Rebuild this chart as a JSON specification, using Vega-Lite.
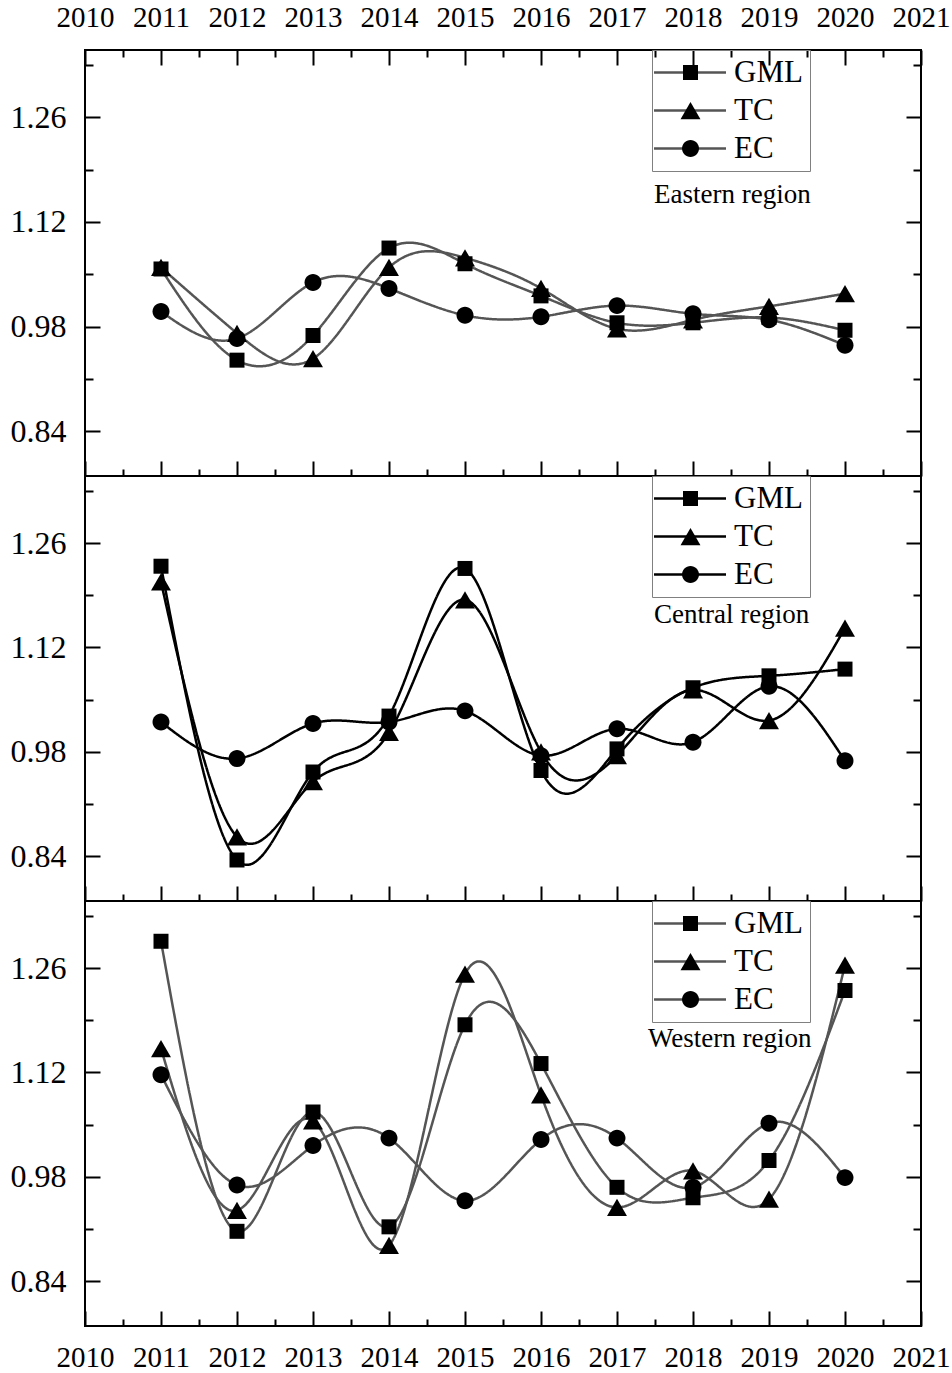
{
  "$schema": "https://vega.github.io/schema/vega-lite/v6.json",
  "background": "white",
  "padding": {"left": 9, "top": 2, "right": 2, "bottom": 0},
  "spacing": 0,
  "bounds": "flush",
  "datasets": {
    "eastern": [
      {"series": "GML", "year": 2011, "value": 1.057}, {"series": "GML", "year": 2012, "value": 0.935},
      {"series": "GML", "year": 2013, "value": 0.968}, {"series": "GML", "year": 2014, "value": 1.085},
      {"series": "GML", "year": 2015, "value": 1.064}, {"series": "GML", "year": 2016, "value": 1.021},
      {"series": "GML", "year": 2017, "value": 0.985}, {"series": "GML", "year": 2018, "value": 0.985},
      {"series": "GML", "year": 2019, "value": 0.992}, {"series": "GML", "year": 2020, "value": 0.975},
      {"series": "TC", "year": 2011, "value": 1.059}, {"series": "TC", "year": 2012, "value": 0.971},
      {"series": "TC", "year": 2013, "value": 0.937}, {"series": "TC", "year": 2014, "value": 1.059},
      {"series": "TC", "year": 2015, "value": 1.072}, {"series": "TC", "year": 2016, "value": 1.031},
      {"series": "TC", "year": 2017, "value": 0.977}, {"series": "TC", "year": 2018, "value": 0.989},
      {"series": "TC", "year": 2019, "value": 1.007}, {"series": "TC", "year": 2020, "value": 1.024},
      {"series": "EC", "year": 2011, "value": 1.000}, {"series": "EC", "year": 2012, "value": 0.964},
      {"series": "EC", "year": 2013, "value": 1.039}, {"series": "EC", "year": 2014, "value": 1.031},
      {"series": "EC", "year": 2015, "value": 0.995}, {"series": "EC", "year": 2016, "value": 0.993},
      {"series": "EC", "year": 2017, "value": 1.008}, {"series": "EC", "year": 2018, "value": 0.997},
      {"series": "EC", "year": 2019, "value": 0.989}, {"series": "EC", "year": 2020, "value": 0.955}
    ],
    "central": [
      {"series": "GML", "year": 2011, "value": 1.229}, {"series": "GML", "year": 2012, "value": 0.835},
      {"series": "GML", "year": 2013, "value": 0.953}, {"series": "GML", "year": 2014, "value": 1.028},
      {"series": "GML", "year": 2015, "value": 1.226}, {"series": "GML", "year": 2016, "value": 0.955},
      {"series": "GML", "year": 2017, "value": 0.984}, {"series": "GML", "year": 2018, "value": 1.066},
      {"series": "GML", "year": 2019, "value": 1.082}, {"series": "GML", "year": 2020, "value": 1.091},
      {"series": "TC", "year": 2011, "value": 1.208}, {"series": "TC", "year": 2012, "value": 0.866},
      {"series": "TC", "year": 2013, "value": 0.940}, {"series": "TC", "year": 2014, "value": 1.006},
      {"series": "TC", "year": 2015, "value": 1.184}, {"series": "TC", "year": 2016, "value": 0.980},
      {"series": "TC", "year": 2017, "value": 0.975}, {"series": "TC", "year": 2018, "value": 1.063},
      {"series": "TC", "year": 2019, "value": 1.022}, {"series": "TC", "year": 2020, "value": 1.146},
      {"series": "EC", "year": 2011, "value": 1.020}, {"series": "EC", "year": 2012, "value": 0.971},
      {"series": "EC", "year": 2013, "value": 1.018}, {"series": "EC", "year": 2014, "value": 1.020},
      {"series": "EC", "year": 2015, "value": 1.035}, {"series": "EC", "year": 2016, "value": 0.975},
      {"series": "EC", "year": 2017, "value": 1.011}, {"series": "EC", "year": 2018, "value": 0.993},
      {"series": "EC", "year": 2019, "value": 1.068}, {"series": "EC", "year": 2020, "value": 0.968}
    ],
    "western": [
      {"series": "GML", "year": 2011, "value": 1.296}, {"series": "GML", "year": 2012, "value": 0.907},
      {"series": "GML", "year": 2013, "value": 1.067}, {"series": "GML", "year": 2014, "value": 0.913},
      {"series": "GML", "year": 2015, "value": 1.184}, {"series": "GML", "year": 2016, "value": 1.132},
      {"series": "GML", "year": 2017, "value": 0.966}, {"series": "GML", "year": 2018, "value": 0.952},
      {"series": "GML", "year": 2019, "value": 1.002}, {"series": "GML", "year": 2020, "value": 1.230},
      {"series": "TC", "year": 2011, "value": 1.152}, {"series": "TC", "year": 2012, "value": 0.935},
      {"series": "TC", "year": 2013, "value": 1.055}, {"series": "TC", "year": 2014, "value": 0.888},
      {"series": "TC", "year": 2015, "value": 1.252}, {"series": "TC", "year": 2016, "value": 1.090},
      {"series": "TC", "year": 2017, "value": 0.939}, {"series": "TC", "year": 2018, "value": 0.988},
      {"series": "TC", "year": 2019, "value": 0.950}, {"series": "TC", "year": 2020, "value": 1.264},
      {"series": "EC", "year": 2011, "value": 1.117}, {"series": "EC", "year": 2012, "value": 0.969},
      {"series": "EC", "year": 2013, "value": 1.022}, {"series": "EC", "year": 2014, "value": 1.032},
      {"series": "EC", "year": 2015, "value": 0.948}, {"series": "EC", "year": 2016, "value": 1.030},
      {"series": "EC", "year": 2017, "value": 1.032}, {"series": "EC", "year": 2018, "value": 0.966},
      {"series": "EC", "year": 2019, "value": 1.052}, {"series": "EC", "year": 2020, "value": 0.979}
    ]
  },
  "vconcat": [
    {
      "width": 836,
      "height": 426,
      "data": {"name": "eastern"},
      "title": {"text": "Eastern region", "orient": "top", "anchor": "start", "frame": "group", "dx": 569, "dy": 227, "offset": 0, "font": "Liberation Serif", "fontSize": 27, "fontWeight": "normal", "color": "black", "baseline": "alphabetic"},
      "layer": [
        {
          "mark": {"type": "line", "interpolate": "natural", "strokeWidth": 2.5, "color": "#555555"},
          "encoding": {
            "x": {"field": "year", "type": "quantitative", "scale": {"domain": [2010, 2021], "nice": false, "zero": false},
              "axis": {"orient": "bottom", "values": [2010, 2011, 2012, 2013, 2014, 2015, 2016, 2017, 2018, 2019, 2020, 2021], "tickSize": -15, "labels": false, "title": null}},
            "y": {"field": "value", "type": "quantitative", "scale": {"domain": [0.78, 1.35], "nice": false, "zero": false},
              "axis": {"orient": "left", "values": [0.84, 0.98, 1.12, 1.26], "format": ".2f", "tickSize": -15, "labelFontSize": 32, "labelPadding": 34, "title": null}},
            "strokeDash": {"field": "series", "type": "nominal", "sort": ["GML", "TC", "EC"], "scale": {"range": [[1, 0], [1, 0], [1, 0]]},
              "legend": {"title": null, "orient": "none", "legendX": 567, "legendY": 0, "strokeColor": "#808080", "padding": 7, "rowPadding": 6, "labelFont": "Liberation Serif", "labelFontSize": 31, "labelColor": "black", "labelOffset": 44, "symbolType": "M-2.73,0H6.87", "symbolSize": 225, "symbolStrokeWidth": 2.5, "symbolStrokeColor": "#555555", "symbolDash": [1, 0]}}
          }
        },
        {
          "mark": {"type": "point", "filled": true, "opacity": 1, "color": "black", "size": 225},
          "encoding": {
            "x": {"field": "year", "type": "quantitative", "axis": {"orient": "bottom", "values": [2010.5, 2011.5, 2012.5, 2013.5, 2014.5, 2015.5, 2016.5, 2017.5, 2018.5, 2019.5, 2020.5], "tickSize": -7, "labels": false, "title": null}},
            "y": {"field": "value", "type": "quantitative", "axis": {"orient": "left", "values": [0.91, 1.05, 1.19, 1.33], "tickSize": -8, "labels": false, "title": null}},
            "shape": {"field": "series", "type": "nominal", "scale": {"domain": ["GML", "TC", "EC"], "range": ["M-1,-1H1V1H-1Z", "M0,-1.15L1.33,1.15L-1.33,1.15Z", "M-1.13,0A1.13,1.13,0,1,0,1.13,0A1.13,1.13,0,1,0,-1.13,0Z"]},
              "legend": {"title": null, "orient": "none", "legendX": 590, "legendY": 7, "padding": 0, "rowPadding": 6, "labelFont": "Liberation Serif", "labelFontSize": 31, "labelExpr": "''", "labelOffset": 44, "symbolSize": 225, "symbolOpacity": 1, "symbolFillColor": "black"}}
          }
        },
        {
          "mark": {"type": "point", "opacity": 0},
          "encoding": {
            "x": {"field": "year", "type": "quantitative", "axis": {"orient": "top", "values": [2010, 2011, 2012, 2013, 2014, 2015, 2016, 2017, 2018, 2019, 2020, 2021], "format": "d", "tickSize": -15, "labelFontSize": 29, "labelPadding": 33, "title": null}},
            "y": {"field": "value", "type": "quantitative", "axis": {"orient": "right", "values": [0.84, 0.98, 1.12, 1.26], "tickSize": -15, "labels": false, "title": null}}
          }
        },
        {
          "mark": {"type": "point", "opacity": 0},
          "encoding": {
            "x": {"field": "year", "type": "quantitative", "axis": {"orient": "top", "values": [2010.5, 2011.5, 2012.5, 2013.5, 2014.5, 2015.5, 2016.5, 2017.5, 2018.5, 2019.5, 2020.5], "tickSize": -7, "labels": false, "title": null}},
            "y": {"field": "value", "type": "quantitative", "axis": {"orient": "right", "values": [0.91, 1.05, 1.19, 1.33], "tickSize": -8, "labels": false, "title": null}}
          }
        }
      ],
      "resolve": {"axis": {"x": "independent", "y": "independent"}}
    },
    {
      "width": 836,
      "height": 425,
      "data": {"name": "central"},
      "title": {"text": "Central region", "orient": "top", "anchor": "start", "frame": "group", "dx": 569, "dy": 174, "offset": 0, "font": "Liberation Serif", "fontSize": 27, "fontWeight": "normal", "color": "black", "baseline": "alphabetic"},
      "layer": [
        {
          "mark": {"type": "line", "interpolate": "natural", "strokeWidth": 2.5, "color": "#000000"},
          "encoding": {
            "x": {"field": "year", "type": "quantitative", "scale": {"domain": [2010, 2021], "nice": false, "zero": false},
              "axis": {"orient": "bottom", "values": [2010, 2011, 2012, 2013, 2014, 2015, 2016, 2017, 2018, 2019, 2020, 2021], "tickSize": -15, "labels": false, "title": null}},
            "y": {"field": "value", "type": "quantitative", "scale": {"domain": [0.78, 1.35], "nice": false, "zero": false},
              "axis": {"orient": "left", "values": [0.84, 0.98, 1.12, 1.26], "format": ".2f", "tickSize": -15, "labelFontSize": 32, "labelPadding": 34, "title": null}},
            "strokeDash": {"field": "series", "type": "nominal", "sort": ["GML", "TC", "EC"], "scale": {"range": [[1, 0], [1, 0], [1, 0]]},
              "legend": {"title": null, "orient": "none", "legendX": 567, "legendY": 0, "strokeColor": "#808080", "padding": 7, "rowPadding": 6, "labelFont": "Liberation Serif", "labelFontSize": 31, "labelColor": "black", "labelOffset": 44, "symbolType": "M-2.73,0H6.87", "symbolSize": 225, "symbolStrokeWidth": 2.5, "symbolStrokeColor": "#000000", "symbolDash": [1, 0]}}
          }
        },
        {
          "mark": {"type": "point", "filled": true, "opacity": 1, "color": "black", "size": 225},
          "encoding": {
            "x": {"field": "year", "type": "quantitative", "axis": {"orient": "bottom", "values": [2010.5, 2011.5, 2012.5, 2013.5, 2014.5, 2015.5, 2016.5, 2017.5, 2018.5, 2019.5, 2020.5], "tickSize": -7, "labels": false, "title": null}},
            "y": {"field": "value", "type": "quantitative", "axis": {"orient": "left", "values": [0.91, 1.05, 1.19, 1.33], "tickSize": -8, "labels": false, "title": null}},
            "shape": {"field": "series", "type": "nominal", "scale": {"domain": ["GML", "TC", "EC"], "range": ["M-1,-1H1V1H-1Z", "M0,-1.15L1.33,1.15L-1.33,1.15Z", "M-1.13,0A1.13,1.13,0,1,0,1.13,0A1.13,1.13,0,1,0,-1.13,0Z"]},
              "legend": {"title": null, "orient": "none", "legendX": 590, "legendY": 7, "padding": 0, "rowPadding": 6, "labelFont": "Liberation Serif", "labelFontSize": 31, "labelExpr": "''", "labelOffset": 44, "symbolSize": 225, "symbolOpacity": 1, "symbolFillColor": "black"}}
          }
        },
        {
          "mark": {"type": "point", "opacity": 0},
          "encoding": {
            "x": {"field": "year", "type": "quantitative", "axis": null},
            "y": {"field": "value", "type": "quantitative", "axis": {"orient": "right", "values": [0.84, 0.98, 1.12, 1.26], "tickSize": -15, "labels": false, "title": null}}
          }
        },
        {
          "mark": {"type": "point", "opacity": 0},
          "encoding": {
            "x": {"field": "year", "type": "quantitative", "axis": null},
            "y": {"field": "value", "type": "quantitative", "axis": {"orient": "right", "values": [0.91, 1.05, 1.19, 1.33], "tickSize": -8, "labels": false, "title": null}}
          }
        }
      ],
      "resolve": {"axis": {"x": "independent", "y": "independent"}}
    },
    {
      "width": 836,
      "height": 425,
      "data": {"name": "western"},
      "title": {"text": "Western region", "orient": "top", "anchor": "start", "frame": "group", "dx": 563, "dy": 173, "offset": 0, "font": "Liberation Serif", "fontSize": 27, "fontWeight": "normal", "color": "black", "baseline": "alphabetic"},
      "layer": [
        {
          "mark": {"type": "line", "interpolate": "natural", "strokeWidth": 2.5, "color": "#555555"},
          "encoding": {
            "x": {"field": "year", "type": "quantitative", "scale": {"domain": [2010, 2021], "nice": false, "zero": false},
              "axis": {"orient": "bottom", "values": [2010, 2011, 2012, 2013, 2014, 2015, 2016, 2017, 2018, 2019, 2020, 2021], "format": "d", "tickSize": -15, "labelFontSize": 29, "labelPadding": 32, "title": null}},
            "y": {"field": "value", "type": "quantitative", "scale": {"domain": [0.78, 1.35], "nice": false, "zero": false},
              "axis": {"orient": "left", "values": [0.84, 0.98, 1.12, 1.26], "format": ".2f", "tickSize": -15, "labelFontSize": 32, "labelPadding": 34, "title": null}},
            "strokeDash": {"field": "series", "type": "nominal", "sort": ["GML", "TC", "EC"], "scale": {"range": [[1, 0], [1, 0], [1, 0]]},
              "legend": {"title": null, "orient": "none", "legendX": 567, "legendY": 0, "strokeColor": "#808080", "padding": 7, "rowPadding": 6, "labelFont": "Liberation Serif", "labelFontSize": 31, "labelColor": "black", "labelOffset": 44, "symbolType": "M-2.73,0H6.87", "symbolSize": 225, "symbolStrokeWidth": 2.5, "symbolStrokeColor": "#555555", "symbolDash": [1, 0]}}
          }
        },
        {
          "mark": {"type": "point", "filled": true, "opacity": 1, "color": "black", "size": 225},
          "encoding": {
            "x": {"field": "year", "type": "quantitative", "axis": {"orient": "bottom", "values": [2010.5, 2011.5, 2012.5, 2013.5, 2014.5, 2015.5, 2016.5, 2017.5, 2018.5, 2019.5, 2020.5], "tickSize": -7, "labels": false, "title": null}},
            "y": {"field": "value", "type": "quantitative", "axis": {"orient": "left", "values": [0.91, 1.05, 1.19, 1.33], "tickSize": -8, "labels": false, "title": null}},
            "shape": {"field": "series", "type": "nominal", "scale": {"domain": ["GML", "TC", "EC"], "range": ["M-1,-1H1V1H-1Z", "M0,-1.15L1.33,1.15L-1.33,1.15Z", "M-1.13,0A1.13,1.13,0,1,0,1.13,0A1.13,1.13,0,1,0,-1.13,0Z"]},
              "legend": {"title": null, "orient": "none", "legendX": 590, "legendY": 7, "padding": 0, "rowPadding": 6, "labelFont": "Liberation Serif", "labelFontSize": 31, "labelExpr": "''", "labelOffset": 44, "symbolSize": 225, "symbolOpacity": 1, "symbolFillColor": "black"}}
          }
        },
        {
          "mark": {"type": "point", "opacity": 0},
          "encoding": {
            "x": {"field": "year", "type": "quantitative", "axis": null},
            "y": {"field": "value", "type": "quantitative", "axis": {"orient": "right", "values": [0.84, 0.98, 1.12, 1.26], "tickSize": -15, "labels": false, "title": null}}
          }
        },
        {
          "mark": {"type": "point", "opacity": 0},
          "encoding": {
            "x": {"field": "year", "type": "quantitative", "axis": null},
            "y": {"field": "value", "type": "quantitative", "axis": {"orient": "right", "values": [0.91, 1.05, 1.19, 1.33], "tickSize": -8, "labels": false, "title": null}}
          }
        }
      ],
      "resolve": {"axis": {"x": "independent", "y": "independent"}}
    }
  ],
  "resolve": {"scale": {"shape": "independent", "strokeDash": "independent"}, "legend": {"shape": "independent", "strokeDash": "independent"}},
  "config": {
    "font": "Liberation Serif",
    "view": {"stroke": "black", "strokeWidth": 2},
    "axis": {"domain": false, "grid": false, "tickColor": "black", "tickWidth": 2, "labelFont": "Liberation Serif", "labelColor": "black", "labelFlush": false, "labelOverlap": false, "labelBound": false}
  }
}
